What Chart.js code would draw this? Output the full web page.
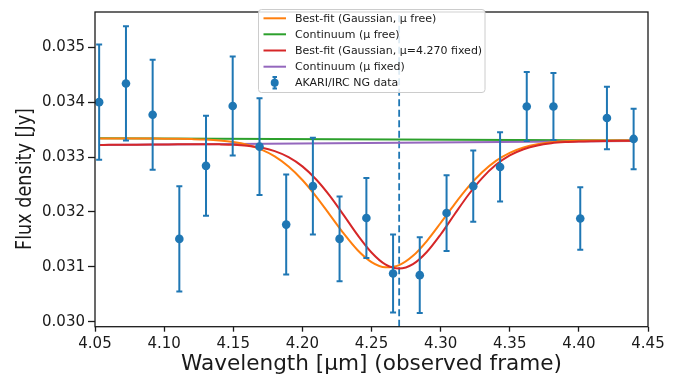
<!DOCTYPE html>
<html><head><meta charset="utf-8">
<script src="https://cdn.jsdelivr.net/npm/chart.js@4"></script>
<style>html,body{margin:0;padding:0;background:#fff}#wrap{width:694px;height:383px}</style>
</head><body><div id="wrap"><canvas id="c" width="694" height="383"></canvas></div>
<script>
// ---- data ----
const wavelength = [4.0530,4.0724,4.0917,4.1110,4.1303,4.1496,4.1690,4.1883,4.2076,4.2269,4.2463,4.2656,4.2849,4.3043,4.3236,4.3430,4.3623,4.3816,4.4010,4.4203,4.4396];
const flux = [0.03400,0.03434,0.03377,0.03151,0.03284,0.03393,0.03319,0.03177,0.03247,0.03151,0.03189,0.03088,0.03085,0.03198,0.03247,0.03282,0.03392,0.03392,0.03188,0.03371,0.03333];
const fluxErr = [0.00105,0.00104,0.00100,0.00096,0.00091,0.00090,0.00088,0.00091,0.00088,0.00077,0.00073,0.00071,0.00069,0.00069,0.00065,0.00063,0.00063,0.00061,0.00057,0.00057,0.00055];

const modelWave = [4.053,4.06,4.07,4.08,4.09,4.10,4.11,4.12,4.13,4.14,4.15,4.16,4.17,4.18,4.19,4.20,4.21,4.22,4.23,4.24,4.25,4.26,4.27,4.28,4.29,4.30,4.31,4.32,4.33,4.34,4.35,4.36,4.37,4.38,4.39,4.40,4.41,4.42,4.43,4.44];
const fitFree = [0.033340,0.033339,0.033338,0.033337,0.033336,0.033335,0.033332,0.033327,0.033319,0.033303,0.033274,0.033224,0.033140,0.033012,0.032827,0.032582,0.032281,0.031944,0.031604,0.031303,0.031088,0.030992,0.031032,0.031201,0.031471,0.031799,0.032140,0.032456,0.032723,0.032930,0.033077,0.033175,0.033235,0.033270,0.033288,0.033297,0.033301,0.033302,0.033302,0.033301];
const fitFixed = [0.033221,0.033222,0.033224,0.033226,0.033228,0.033230,0.033232,0.033233,0.033234,0.033231,0.033224,0.033207,0.033172,0.033107,0.032998,0.032830,0.032592,0.032289,0.031938,0.031578,0.031263,0.031046,0.030970,0.031050,0.031271,0.031590,0.031954,0.032309,0.032616,0.032858,0.033030,0.033143,0.033212,0.033251,0.033272,0.033283,0.033289,0.033293,0.033296,0.033298];
const contWave = [4.053,4.44];
const contFree = [0.03334,0.03330];
const contFixed = [0.03322,0.03329];
const muFixed = 4.270;

const xTicks = [4.05,4.10,4.15,4.20,4.25,4.30,4.35,4.40,4.45];
const yTicks = [0.030,0.031,0.032,0.033,0.034,0.035];
const xRange = [4.05,4.45];
const yRange = [0.029911,0.035641];

const seriesLabels = ['Best-fit (Gaussian, \u03bc free)','Continuum (\u03bc free)','Best-fit (Gaussian, \u03bc=4.270 fixed)','Continuum (\u03bc fixed)','AKARI/IRC NG data'];
const xTitle = 'Wavelength [\u03bcm] (observed frame)';
const yTitle = 'Flux density [Jy]';

// ---- styles ----
const C_BLUE='#1f77b4', C_ORANGE='#ff7f0e', C_GREEN='#2ca02c', C_RED='#d62728', C_PURPLE='#9467bd';
const FONT='"DejaVu Sans", sans-serif';
const INK='#1a1a1a';

const pts = (xs, ys) => xs.map((x,i)=>({x:x,y:ys[i]}));

const errPlugin = {
  id:'errbars',
  beforeDatasetDraw(chart,args){
    if(chart.data.datasets[args.index].id!=='data') return;
    const {ctx, scales:{x,y}} = chart;
    ctx.save();
    ctx.strokeStyle=C_BLUE; ctx.lineWidth=2;
    for(let i=0;i<wavelength.length;i++){
      const px=x.getPixelForValue(wavelength[i]);
      const y1=y.getPixelForValue(flux[i]+fluxErr[i]);
      const y2=y.getPixelForValue(flux[i]-fluxErr[i]);
      ctx.beginPath();
      ctx.moveTo(px,y1);ctx.lineTo(px,y2);
      ctx.moveTo(px-3,y1);ctx.lineTo(px+3,y1);
      ctx.moveTo(px-3,y2);ctx.lineTo(px+3,y2);
      ctx.stroke();
    }
    ctx.restore();
  }
};

const decoPlugin = {
  id:'deco',
  afterDraw(chart){
    const {ctx, chartArea:a} = chart;
    ctx.save();
    // frame
    ctx.strokeStyle=INK; ctx.lineWidth=1.3;
    ctx.strokeRect(a.left,a.top,a.right-a.left,a.bottom-a.top);
    // axis titles
    ctx.fillStyle=INK; ctx.textAlign='center'; ctx.textBaseline='middle';
    ctx.font='21px '+FONT;
    let w=ctx.measureText(xTitle).width;
    ctx.save(); ctx.translate((a.left+a.right)/2,365); ctx.scale(381/w,1); ctx.fillText(xTitle,0,0); ctx.restore();
    w=ctx.measureText(yTitle).width;
    ctx.save(); ctx.translate(25.5,179); ctx.rotate(-Math.PI/2); ctx.scale(142/w,1); ctx.fillText(yTitle,0,0); ctx.restore();
    // legend
    const bx=258.5, by=9.5, bw=226.5, bh=83;
    ctx.beginPath();
    ctx.roundRect(bx,by,bw,bh,3);
    ctx.fillStyle='rgba(255,255,255,0.85)'; ctx.fill();
    ctx.strokeStyle='#cccccc'; ctx.lineWidth=1; ctx.stroke();
    const rows=[18.3,34.3,50.5,66.7,82.7];
    const cols=[C_ORANGE,C_GREEN,C_RED,C_PURPLE];
    ctx.lineWidth=2;
    for(let i=0;i<4;i++){
      ctx.strokeStyle=cols[i]; ctx.beginPath(); ctx.moveTo(263.5,rows[i]); ctx.lineTo(286,rows[i]); ctx.stroke();
    }
    ctx.strokeStyle=C_BLUE; ctx.fillStyle=C_BLUE;
    ctx.beginPath(); ctx.moveTo(274.7,77); ctx.lineTo(274.7,88.5);
    ctx.moveTo(272.5,77); ctx.lineTo(277,77); ctx.moveTo(272.5,88.5); ctx.lineTo(277,88.5); ctx.stroke();
    ctx.beginPath(); ctx.arc(274.7,82.7,4,0,Math.PI*2); ctx.fill();
    ctx.fillStyle=INK; ctx.textAlign='left'; ctx.font='11px '+FONT;
    for(let i=0;i<5;i++) ctx.fillText(seriesLabels[i],295,rows[i]+0.5);
    ctx.restore();
  }
};

new Chart(document.getElementById('c'),{
  type:'line',
  data:{datasets:[
    {id:'data',label:seriesLabels[4],type:'scatter',data:pts(wavelength,flux),showLine:false,pointRadius:4.3,pointHoverRadius:4.3,pointBackgroundColor:C_BLUE,pointBorderWidth:0,order:0},
    {label:seriesLabels[2],data:pts(modelWave,fitFixed),borderColor:C_RED,borderWidth:2,pointRadius:0,cubicInterpolationMode:'monotone',order:1},
    {label:seriesLabels[0],data:pts(modelWave,fitFree),borderColor:C_ORANGE,borderWidth:2,pointRadius:0,cubicInterpolationMode:'monotone',order:2},
    {label:seriesLabels[3],data:pts(contWave,contFixed),borderColor:C_PURPLE,borderWidth:2,pointRadius:0,order:3},
    {label:seriesLabels[1],data:pts(contWave,contFree),borderColor:C_GREEN,borderWidth:2,pointRadius:0,order:4},
    {label:'mu',data:[{x:muFixed,y:yRange[0]},{x:muFixed,y:yRange[1]}],borderColor:C_BLUE,borderWidth:1.8,borderDash:[7,3.5],pointRadius:0,order:5}
  ]},
  options:{
    responsive:false, devicePixelRatio:1, animation:false,
    layout:{padding:{left:0,right:46,top:5,bottom:0}},
    plugins:{legend:{display:false},tooltip:{enabled:false}},
    scales:{
      x:{type:'linear',min:xRange[0],max:xRange[1],
        afterBuildTicks(s){s.ticks=xTicks.map(v=>({value:v}));},
        afterFit(s){s.height=56.3;},
        grid:{drawOnChartArea:false,drawTicks:true,tickLength:5,tickColor:INK,tickWidth:1.3},
        border:{display:false},
        ticks:{color:INK,font:{family:FONT,size:15},padding:3,maxRotation:0,autoSkip:false,callback:v=>Number(v).toFixed(2)}},
      y:{type:'linear',min:yRange[0],max:yRange[1],
        afterBuildTicks(s){s.ticks=yTicks.map(v=>({value:v}));},
        afterFit(s){s.width=95;},
        grid:{drawOnChartArea:false,drawTicks:true,tickLength:7,tickColor:INK,tickWidth:1.3},
        border:{display:false},
        ticks:{color:INK,font:{family:FONT,size:15},padding:3,autoSkip:false,callback:v=>Number(v).toFixed(3)}}
    }
  },
  plugins:[errPlugin,decoPlugin]
});
</script></body></html>
